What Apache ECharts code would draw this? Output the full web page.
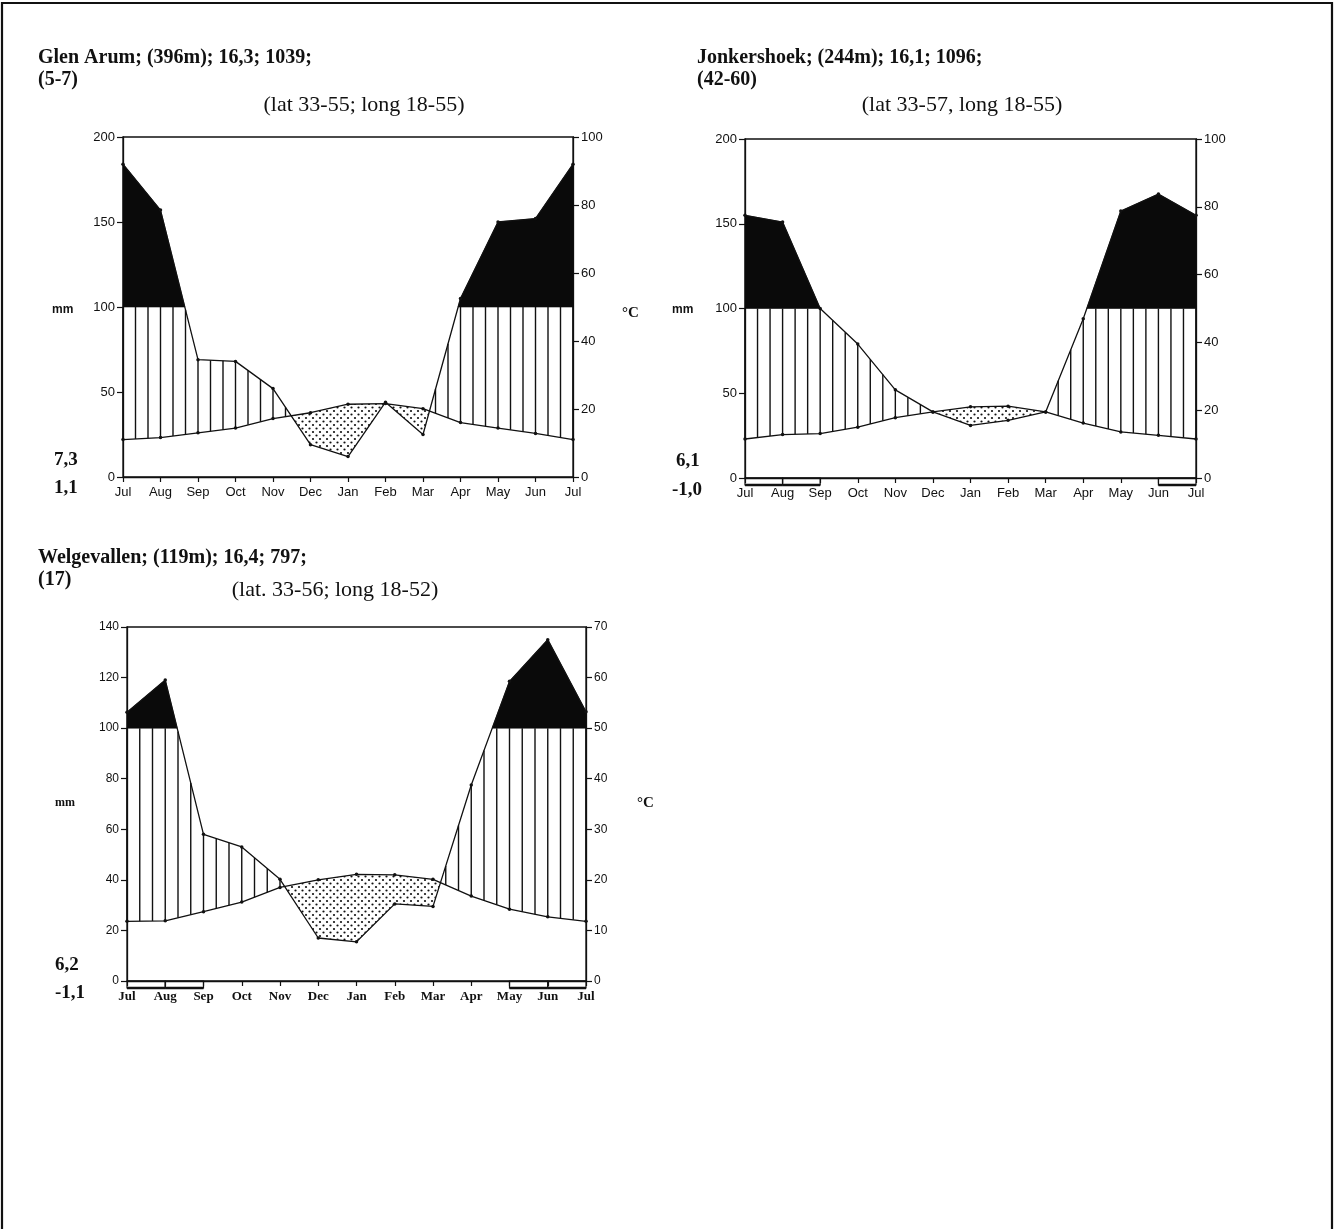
<!DOCTYPE html>
<html>
<head>
<meta charset="utf-8">
<script src="https://cdn.jsdelivr.net/npm/echarts@6/dist/echarts.min.js"></script>
<style>
  html, body { margin: 0; padding: 0; background: #fff; }
  #chart { width: 1337px; height: 1229px; }
</style>
</head>
<body>
<div id="chart"></div>
<script>
// Month labels along the x axis (July to July)
const months = ['Jul', 'Aug', 'Sep', 'Oct', 'Nov', 'Dec', 'Jan', 'Feb', 'Mar', 'Apr', 'May', 'Jun', 'Jul'];

// Axis tick values
const mmTicksLarge = [0, 50, 100, 150, 200];
const degTicksLarge = [0, 20, 40, 60, 80, 100];
const mmTicksSmall = [0, 20, 40, 60, 80, 100, 120, 140];
const degTicksSmall = [0, 10, 20, 30, 40, 50, 60, 70];

// Glen Arum: monthly precipitation (mm) and mean temperature (°C)
const glenPrecip = [184, 157, 69, 68, 52, 19, 12, 44, 25, 105, 150, 152, 184];
const glenTemp = [11, 11.6, 13, 14.4, 17.2, 18.9, 21.4, 21.6, 20.1, 16, 14.4, 12.8, 11];
const glenFrost = [];

// Jonkershoek
const jonkPrecip = [155, 151, 100, 79, 52, 39, 31, 34, 39, 94, 157.5, 167.5, 155];
const jonkTemp = [11.5, 12.8, 13.1, 15, 17.8, 19.5, 21, 21.2, 19.5, 16.2, 13.6, 12.6, 11.5];
const jonkFrost = [[0, 1], [1, 2], [11, 12]];

// Welgevallen
const welgPrecip = [106.3, 119, 58, 53, 40.2, 17, 15.5, 30.5, 29.5, 77.5, 118.5, 135, 106.5];
const welgTemp = [11.8, 11.9, 13.7, 15.6, 18.5, 20, 21.1, 21, 20.1, 16.8, 14.2, 12.7, 11.8];
const welgFrost = [[0, 1], [1, 2], [10, 11], [11, 12]];

// Dotted pattern for the dry season
const dotCanvas = document.createElement('canvas');
dotCanvas.width = 7; dotCanvas.height = 7;
(function () {
  const g = dotCanvas.getContext('2d');
  g.fillStyle = '#111';
  [[1.5, 1.5], [5, 5]].forEach(function (p) {
    g.beginPath(); g.arc(p[0], p[1], 1.1, 0, Math.PI * 2); g.fill();
  });
})();

// Build the humid / perhumid / arid fills of a Walter-Lieth style diagram.
// Temperature is drawn on the mm scale (10 °C = 20 mm).
function climateFill(precip, temp, xi, yi) {
  const t2 = temp.map(function (v) { return v * 2; });
  const n = precip.length - 1;
  const lerp = function (arr, x) {
    const i = Math.min(Math.floor(x), n - 1);
    const f = x - i;
    return arr[i] + (arr[i + 1] - arr[i]) * f;
  };
  const xs = [];
  for (let i = 0; i < n; i++) {
    xs.push(i);
    const cuts = [];
    const d0 = precip[i] - t2[i], d1 = precip[i + 1] - t2[i + 1];
    if (d0 * d1 < 0) cuts.push(i + d0 / (d0 - d1));
    const e0 = precip[i] - 100, e1 = precip[i + 1] - 100;
    if (e0 * e1 < 0) cuts.push(i + e0 / (e0 - e1));
    cuts.sort(function (a, b) { return a - b; }).forEach(function (c) { xs.push(c); });
  }
  xs.push(n);
  const P = function (x) { return lerp(precip, x); };
  const T = function (x) { return lerp(t2, x); };

  function runs(cond) {
    const out = []; let cur = null;
    for (let k = 0; k < xs.length - 1; k++) {
      const m = (xs[k] + xs[k + 1]) / 2;
      if (xs[k + 1] - xs[k] > 1e-9 && cond(m)) {
        if (!cur) { cur = [k, k + 1]; out.push(cur); } else cur[1] = k + 1;
      } else if (xs[k + 1] - xs[k] > 1e-9) cur = null;
    }
    return out;
  }

  return {
    type: 'custom',
    xAxisIndex: xi,
    yAxisIndex: yi,
    silent: true,
    z: 1,
    data: [[0, 0]],
    renderItem: function (params, api) {
      const children = [];
      function poly(r, upper, lower) {
        const pts = [];
        for (let k = r[0]; k <= r[1]; k++) pts.push(api.coord([xs[k], upper(xs[k])]));
        for (let k = r[1]; k >= r[0]; k--) pts.push(api.coord([xs[k], lower(xs[k])]));
        return pts;
      }
      // perhumid season (above 100 mm): solid black
      runs(function (m) { return P(m) > 100; }).forEach(function (r) {
        children.push({
          type: 'polygon',
          shape: { points: poly(r, P, function () { return 100; }) },
          style: { fill: '#0a0a0a', stroke: '#0a0a0a', lineWidth: 0.6 }
        });
      });
      // arid season: dotted
      runs(function (m) { return T(m) > P(m); }).forEach(function (r) {
        children.push({
          type: 'polygon',
          shape: { points: poly(r, T, P) },
          style: { fill: { image: dotCanvas, repeat: 'repeat' }, stroke: null }
        });
      });
      // humid season: vertical hatching, three lines per month
      for (let j = 0; j <= n * 3; j++) {
        const x = j / 3;
        const p = P(x), t = T(x);
        if (p > t + 0.5) {
          const a = api.coord([x, t]);
          const b = api.coord([x, Math.min(p, 100)]);
          children.push({
            type: 'line',
            shape: { x1: a[0], y1: a[1], x2: b[0], y2: b[1] },
            style: { stroke: '#111', lineWidth: 1.4 }
          });
        }
      }
      return { type: 'group', children: children };
    }
  };
}

// Months with frost risk: boxes under the x axis
function frostBars(ranges, xi, yi) {
  return {
    type: 'custom',
    xAxisIndex: xi,
    yAxisIndex: yi,
    silent: true,
    z: 5,
    clip: false,
    data: ranges,
    renderItem: function (params, api) {
      const a = api.coord([api.value(0), 0]);
      const b = api.coord([api.value(1), 0]);
      return {
        type: 'group',
        children: [
          { type: 'rect', shape: { x: a[0], y: a[1], width: b[0] - a[0], height: 7 },
            style: { fill: 'none', stroke: '#111', lineWidth: 1.2 } },
          { type: 'line', shape: { x1: a[0], y1: a[1] + 7, x2: b[0], y2: a[1] + 7 },
            style: { stroke: '#111', lineWidth: 2.4 } }
        ]
      };
    }
  };
}

function lineSeries(values, xi, yi) {
  return {
    type: 'line',
    xAxisIndex: xi,
    yAxisIndex: yi,
    silent: true,
    z: 4,
    data: values.map(function (v, i) { return [i, v]; }),
    symbol: 'circle',
    symbolSize: 3.5,
    itemStyle: { color: '#111' },
    lineStyle: { color: '#111', width: 1.3 },
    animation: false
  };
}

const sansFont = 'Liberation Sans';
const labelSerif = 'Liberation Serif';

function xAxisFor(gi, serif) {
  return {
    type: 'value', gridIndex: gi, min: 0, max: 12, interval: 1,
    axisLine: { show: true, lineStyle: { color: '#111', width: 1.4 } },
    axisTick: { show: true, length: 5, lineStyle: { color: '#111', width: 1.2 } },
    axisLabel: {
      formatter: function (v) { return months[v]; },
      color: '#111', margin: 9, showMinLabel: true, showMaxLabel: true,
      fontFamily: serif ? labelSerif : sansFont,
      fontSize: 13, fontWeight: serif ? 'bold' : 'normal'
    },
    splitLine: { show: false }
  };
}

function yAxisFor(gi, ticks, pos, fontSize) {
  return {
    type: 'value', gridIndex: gi, position: pos,
    min: ticks[0], max: ticks[ticks.length - 1], interval: ticks[1] - ticks[0],
    axisLine: { show: true, lineStyle: { color: '#111', width: 1.3 } },
    axisTick: { show: true, length: 6, lineStyle: { color: '#111', width: 1.2 } },
    axisLabel: { color: '#111', fontFamily: sansFont, fontSize: fontSize, margin: 8 },
    splitLine: { show: false }
  };
}

function txt(x, y, text, font, align) {
  return {
    type: 'text', x: x, y: y, silent: true,
    style: { text: text, font: font, fill: '#111', align: align || 'left', verticalAlign: 'middle' }
  };
}

const boldSerif = 'bold 20px "Liberation Serif"';
const coordFont = '22px "Liberation Serif"';
const sideFont = 'bold 19px "Liberation Serif"';

const chart = echarts.init(document.getElementById('chart'), null, { renderer: 'canvas' });
chart.setOption({
  animation: false,
  backgroundColor: '#fff',
  grid: [
    { left: 123, top: 137, width: 450, height: 340, show: true, borderColor: '#111', borderWidth: 1.3 },
    { left: 745, top: 139, width: 451, height: 339, show: true, borderColor: '#111', borderWidth: 1.3 },
    { left: 127, top: 627, width: 459, height: 354, show: true, borderColor: '#111', borderWidth: 1.3 }
  ],
  xAxis: [xAxisFor(0, false), xAxisFor(1, false), xAxisFor(2, true)],
  yAxis: [
    yAxisFor(0, mmTicksLarge, 'left', 13), yAxisFor(0, degTicksLarge, 'right', 13),
    yAxisFor(1, mmTicksLarge, 'left', 13), yAxisFor(1, degTicksLarge, 'right', 13),
    yAxisFor(2, mmTicksSmall, 'left', 12), yAxisFor(2, degTicksSmall, 'right', 12)
  ],
  series: [
    climateFill(glenPrecip, glenTemp, 0, 0),
    frostBars(glenFrost, 0, 0),
    lineSeries(glenPrecip, 0, 0),
    lineSeries(glenTemp, 0, 1),

    climateFill(jonkPrecip, jonkTemp, 1, 2),
    frostBars(jonkFrost, 1, 2),
    lineSeries(jonkPrecip, 1, 2),
    lineSeries(jonkTemp, 1, 3),

    climateFill(welgPrecip, welgTemp, 2, 4),
    frostBars(welgFrost, 2, 4),
    lineSeries(welgPrecip, 2, 4),
    lineSeries(welgTemp, 2, 5)
  ],
  graphic: [
    { type: 'rect', silent: true, shape: { x: 2, y: 3, width: 1330, height: 1240 },
      style: { fill: 'none', stroke: '#111', lineWidth: 2.2 } },

    txt(38, 58, 'Glen Arum; (396m); 16,3; 1039;', boldSerif),
    txt(38, 80, '(5-7)', boldSerif),
    txt(364, 105, '(lat 33-55; long 18-55)', coordFont, 'center'),
    txt(52, 310, 'mm', 'bold 12px "Liberation Sans"'),
    txt(622, 313, '°C', 'bold 15px "Liberation Serif"'),
    txt(54, 460, '7,3', sideFont),
    txt(54, 488, '1,1', sideFont),

    txt(697, 58, 'Jonkershoek; (244m); 16,1; 1096;', boldSerif),
    txt(697, 80, '(42-60)', boldSerif),
    txt(962, 105, '(lat 33-57, long 18-55)', coordFont, 'center'),
    txt(672, 310, 'mm', 'bold 12px "Liberation Sans"'),
    txt(676, 461, '6,1', sideFont),
    txt(672, 490, '-1,0', sideFont),

    txt(38, 558, 'Welgevallen; (119m); 16,4; 797;', boldSerif),
    txt(38, 580, '(17)', boldSerif),
    txt(335, 590, '(lat. 33-56; long 18-52)', coordFont, 'center'),
    txt(55, 803, 'mm', 'bold 12px "Liberation Serif"'),
    txt(637, 803, '°C', 'bold 15px "Liberation Serif"'),
    txt(55, 965, '6,2', sideFont),
    txt(55, 993, '-1,1', sideFont)
  ]
});
</script>
</body>
</html>
